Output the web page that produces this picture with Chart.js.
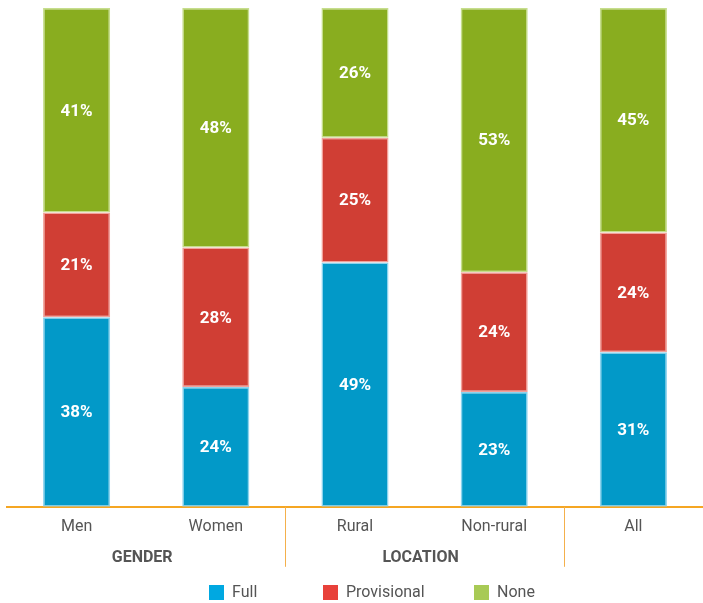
<!DOCTYPE html>
<html>
<head>
<meta charset="utf-8">
<script src="https://cdn.jsdelivr.net/npm/chart.js@4"></script>
<style>
  html, body { margin: 0; padding: 0; background: #fff; overflow: hidden; }
  #wrap { width: 703px; height: 603px; }
</style>
</head>
<body>
<div id="wrap"><canvas id="c" width="703" height="603"></canvas></div>
<script>
const categories = ["Men", "Women", "Rural", "Non-rural", "All"];
const groups = [
  { label: "GENDER", from: 0, to: 1 },
  { label: "LOCATION", from: 2, to: 3 }
];
const seriesNames = ["Full", "Provisional", "None"];
const fullValues = [38, 24, 49, 23, 31];
const provisionalValues = [21, 28, 25, 24, 24];
const noneValues = [41, 48, 26, 53, 45];

const fillColors = ["#0299c8", "#d03e34", "#89ad1f"];
const borderColors = ["#8cd3ee", "#f2a29b", "#c6de8c"];
const legendColors = ["#00a8e1", "#e8413a", "#a8ca55"];
const axisOrange = "#f5a623";

const FONT = "Roboto, 'Noto Sans', sans-serif";

const valueLabels = {
  id: "valueLabels",
  afterDatasetsDraw(chart) {
    const ctx = chart.ctx;
    ctx.save();
    ctx.font = "bold 17px " + FONT;
    ctx.fillStyle = "#ffffff";
    ctx.textAlign = "center";
    ctx.textBaseline = "middle";
    chart.data.datasets.forEach((ds, di) => {
      const meta = chart.getDatasetMeta(di);
      meta.data.forEach((bar, i) => {
        const p = bar.getProps(["x", "y", "base"], true);
        const cy = (p.y + p.base) / 2;
        ctx.fillText(ds.data[i] + "%", p.x, cy + 1);
      });
    });
    ctx.restore();
  }
};

const groupsAndLegend = {
  id: "groupsAndLegend",
  afterDraw(chart) {
    const ctx = chart.ctx;
    const xs = chart.scales.x;
    const bottom = chart.chartArea.bottom;
    ctx.save();
    // dividers between groups
    ctx.strokeStyle = "#f4b04c";
    ctx.lineWidth = 1;
    const dividerIdx = [1.5, 3.5];
    dividerIdx.forEach(d => {
      const x = Math.round((xs.getPixelForValue(Math.floor(d)) + xs.getPixelForValue(Math.ceil(d))) / 2) + 0.5;
      ctx.beginPath();
      ctx.moveTo(x, bottom);
      ctx.lineTo(x, bottom + 60);
      ctx.stroke();
    });
    // group labels
    ctx.font = "bold 16px " + FONT;
    ctx.fillStyle = "#555555";
    ctx.textAlign = "center";
    ctx.textBaseline = "middle";
    groups.forEach(g => {
      const x = (xs.getPixelForValue(g.from) + xs.getPixelForValue(g.to)) / 2 - 4;
      ctx.fillText(g.label, x, bottom + 51);
    });
    // legend
    const legendX = [209, 323, 474];
    const ly = 593;
    ctx.font = "16px " + FONT;
    ctx.textAlign = "left";
    seriesNames.forEach((name, i) => {
      ctx.fillStyle = legendColors[i];
      ctx.fillRect(legendX[i], ly - 8, 15, 15);
      ctx.fillStyle = "#555555";
      ctx.fillText(name, legendX[i] + 23, ly);
    });
    ctx.restore();
  }
};

const datasets = [fullValues, provisionalValues, noneValues].map((vals, i) => ({
  label: seriesNames[i],
  data: vals,
  backgroundColor: fillColors[i],
  borderColor: borderColors[i],
  borderWidth: 1.5,
  borderSkipped: false,
  barPercentage: 0.482,
  categoryPercentage: 1.0
}));

new Chart(document.getElementById("c"), {
  type: "bar",
  data: { labels: categories, datasets },
  options: {
    responsive: false,
    animation: false,
    devicePixelRatio: 1,
    layout: { padding: { top: 8, left: 7, right: 0, bottom: 55 } },
    plugins: {
      legend: { display: false },
      tooltip: { enabled: false }
    },
    scales: {
      x: {
        stacked: true,
        grid: { display: false, drawTicks: false, tickLength: 0 },
        border: { display: true, color: axisOrange, width: 2 },
        ticks: {
          padding: 11,
          color: "#555555",
          font: { family: FONT, size: 16 },
          maxRotation: 0
        }
      },
      y: {
        stacked: true,
        display: false,
        min: 0,
        max: 100
      }
    }
  },
  plugins: [valueLabels, groupsAndLegend]
});
</script>
</body>
</html>
